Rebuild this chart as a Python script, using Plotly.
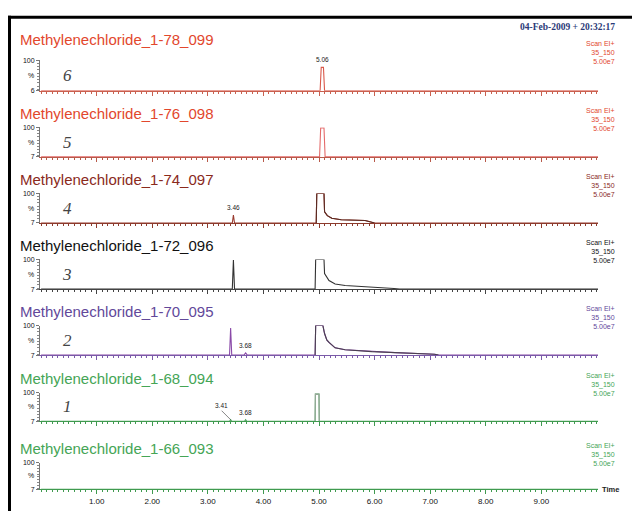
import plotly.graph_objects as go

W, H = 632, 514

# --- Chromatogram data (retention time in minutes, relative intensity %) ---
SAMPLES = [
    "Methylenechloride_1-78_099",
    "Methylenechloride_1-76_098",
    "Methylenechloride_1-74_097",
    "Methylenechloride_1-72_096",
    "Methylenechloride_1-70_095",
    "Methylenechloride_1-68_094",
    "Methylenechloride_1-66_093",
]
RUN_NUMBERS = ["6", "5", "4", "3", "2", "1", ""]
Y_MIN = [6, 7, 7, 7, 7, 7, 7]

t_078 = [0.0, 5.02, 5.04, 5.08, 5.10, 10.02]
i_078 = [6, 6, 78, 78, 6, 6]

t_076 = [0.0, 5.01, 5.03, 5.09, 5.11, 10.02]
i_076 = [7, 7, 98, 98, 7, 7]

t_074 = [0.0, 3.44, 3.46, 3.48, 4.95, 4.96, 5.09, 5.10, 5.15, 5.23, 5.40, 5.83, 6.0, 10.02]
i_074 = [7, 7, 32, 7, 7, 100, 100, 42, 30, 22, 17, 15, 7, 7]

t_072 = [0.0, 3.44, 3.46, 3.48, 4.93, 4.94, 5.09, 5.10, 5.18, 5.29, 5.47, 5.95, 6.35, 6.45, 10.02]
i_072 = [7, 7, 98, 7, 7, 100, 100, 56, 34, 23, 18, 14, 9, 7, 7]

t_070 = [0.0, 3.39, 3.41, 3.43, 3.65, 3.68, 3.71, 4.93, 4.94, 5.07, 5.10, 5.14, 5.18,
         5.29, 5.47, 5.95, 6.37, 7.08, 7.15, 10.02]
i_070 = [7, 7, 92, 7, 7, 14, 7, 7, 100, 100, 75, 55, 47, 30, 24, 18, 15, 10, 7, 7]

t_068 = [0.0, 3.39, 3.41, 3.43, 3.66, 3.68, 3.70, 4.93, 4.935, 5.0, 5.005, 10.02]
i_068 = [7, 7, 12, 7, 7, 12, 7, 7, 95, 95, 7, 7]

t_066 = [0.0, 10.02]
i_066 = [7, 7]

TIMES = [t_078, t_076, t_074, t_072, t_070, t_068, t_066]
INTENS = [i_078, i_076, i_074, i_072, i_070, i_068, i_066]

# labelled peaks: (panel index, retention time, leader-line offset)
PEAK_LABELS = [(0, 5.06, None), (2, 3.46, None), (4, 3.68, None), (5, 3.41, (-9, -9)), (5, 3.68, None)]

TIME_TICKS = [1, 2, 3, 4, 5, 6, 7, 8, 9]
TIME_TICK_TEXT = ["1.00", "2.00", "3.00", "4.00", "5.00", "6.00", "7.00", "8.00", "9.00"]

ACQ_FUNCTION = "Scan EI+"
MASS_RANGE = "35_150"
FULL_SCALE = "5.00e7"
TIMESTAMP = "04-Feb-2009 + 20:32:17"

# --- styling ---
TITLE_COLORS = ["#e2472d", "#e2472d", "#8a2a1c", "#111111", "#62489a", "#45a556", "#45a556"]
LINE_COLORS = ["#d9584a", "#e46a6a", "#9a3c30", "#333333", "#8a4aa8", "#4aa35a", "#4aa35a"]
# solvent-front colour (drawn over the 4.9-7.2 min window) per panel, None = same as trace
FRONT_COLORS = [None, None, "#5a2a22", None, "#4a4050", "#9aa89c", None]
AXIS_COLORS = ["#c9604f", "#b85a4a", "#8c3a2c", "#444444", "#7a5aa8", "#3f9a4f", "#3f9a4f"]

TITLE_ROWS = [36, 111, 178, 245, 312, 380, 451]   # pixel rows of panel titles
TOPS = [57, 125, 192, 259, 326, 394, 465]         # pixel rows of the 100 % level
BASES = [88, 155, 222, 289, 356, 423, 492]        # pixel rows of each baseline
X_LEFT, X_RIGHT = 40, 598

SANS = "Liberation Sans, Arial, sans-serif"
SERIF = "Liberation Serif, Times New Roman, serif"


def px(x):
    return x / W


def py(y):
    return 1 - y / H


fig = go.Figure()
layout = dict(
    width=W, height=H,
    margin=dict(l=0, r=0, t=0, b=0),
    paper_bgcolor="white", plot_bgcolor="white",
    showlegend=False,
)
annotations = []

for k in range(7):
    sfx = "" if k == 0 else str(k + 1)
    fig.add_trace(go.Scatter(
        x=TIMES[k], y=INTENS[k], mode="lines",
        line=dict(color=LINE_COLORS[k], width=1.1),
        xaxis="x" + sfx, yaxis="y" + sfx, hoverinfo="skip",
    ))
    if FRONT_COLORS[k]:
        seg = [(t, v) for t, v in zip(TIMES[k], INTENS[k]) if 4.9 <= t <= 7.2]
        fig.add_trace(go.Scatter(
            x=[s[0] for s in seg], y=[s[1] for s in seg], mode="lines",
            line=dict(color=FRONT_COLORS[k], width=1.1),
            xaxis="x" + sfx, yaxis="y" + sfx, hoverinfo="skip",
        ))
    layout["xaxis" + sfx] = dict(
        domain=[px(X_LEFT), px(X_RIGHT)], range=[-0.02, 10.02], anchor="y" + sfx,
        showgrid=False, zeroline=False, showline=True, linecolor=AXIS_COLORS[k], linewidth=1.2,
        ticks="outside", ticklen=4, tickcolor=AXIS_COLORS[k], tickwidth=1,
        tickmode="array", tickvals=TIME_TICKS, ticktext=TIME_TICK_TEXT,
        showticklabels=(k == 6),
        tickfont=dict(family=SANS, size=8, color="#111"),
        minor=dict(ticks="outside", dtick=0.1, tick0=0, ticklen=2, tickcolor=AXIS_COLORS[k], tickwidth=0.8),
    )
    layout["yaxis" + sfx] = dict(
        domain=[py(BASES[k]), py(TOPS[k])], range=[Y_MIN[k], 100], anchor="x" + sfx,
        showgrid=False, zeroline=False, showline=True, linecolor="#777", linewidth=1,
        ticks="outside", ticklen=3, tickcolor="#777",
        tickmode="array", tickvals=[Y_MIN[k], 100], ticktext=[str(Y_MIN[k]), "100"],
        tickfont=dict(family=SANS, size=7, color="#111"),
        minor=dict(ticks="outside", dtick=10, tick0=0, ticklen=2, tickcolor="#888"),
    )
    mid = (BASES[k] + TOPS[k]) / 2
    # sample title
    annotations.append(dict(
        x=px(18), y=py(TITLE_ROWS[k]), xref="paper", yref="paper",
        text=SAMPLES[k], showarrow=False, xanchor="left", yanchor="middle",
        font=dict(family=SANS, size=15, color=TITLE_COLORS[k]),
    ))
    # percent sign on the intensity axis
    annotations.append(dict(
        x=px(36), y=py(mid), xref="paper", yref="paper", text="%", showarrow=False,
        xanchor="right", yanchor="middle", font=dict(family=SANS, size=7, color="#111"),
    ))
    # run number
    if RUN_NUMBERS[k]:
        annotations.append(dict(
            x=px(67), y=py(mid), xref="paper", yref="paper",
            text="<i>" + RUN_NUMBERS[k] + "</i>", showarrow=False,
            xanchor="center", yanchor="middle", font=dict(family=SERIF, size=17, color="#444"),
        ))
    # acquisition info on the right
    annotations.append(dict(
        x=px(617), y=py(TOPS[k] - 8), xref="paper", yref="paper",
        text="<br>".join([ACQ_FUNCTION, MASS_RANGE, FULL_SCALE]), showarrow=False,
        xanchor="right", yanchor="middle", align="right",
        font=dict(family=SANS, size=7, color=TITLE_COLORS[k]),
    ))

# retention-time labels over peaks
for k, rt, off in PEAK_LABELS:
    sfx = "" if k == 0 else str(k + 1)
    times, vals = TIMES[k], INTENS[k]
    peak = max(v for t, v in zip(times, vals) if abs(t - rt) <= 0.03)
    a = dict(x=rt, y=peak, xref="x" + sfx, yref="y" + sfx, text=f"{rt:.2f}",
             font=dict(family=SANS, size=6.5, color="#222"))
    if off is None:
        a.update(showarrow=False, yanchor="bottom", yshift=2)
    else:
        a.update(showarrow=True, arrowhead=0, arrowwidth=0.6, arrowcolor="#333",
                 ax=off[0], ay=off[1], yanchor="bottom")
    annotations.append(a)

annotations.append(dict(
    x=px(617), y=py(23), xref="paper", yref="paper", text="<b>" + TIMESTAMP + "</b>",
    showarrow=False, xanchor="right", yanchor="middle",
    font=dict(family=SERIF, size=9.5, color="#2b3a78"),
))
annotations.append(dict(
    x=px(600), y=py(BASES[6]), xref="paper", yref="paper", text="<b>Time</b>",
    showarrow=False, xanchor="left", yanchor="middle",
    font=dict(family=SANS, size=7.5, color="#222"),
))

layout["annotations"] = annotations
layout["shapes"] = [
    dict(type="line", xref="paper", yref="paper", x0=px(8), x1=1, y0=py(13.5), y1=py(13.5),
         line=dict(color="black", width=3)),
    dict(type="line", xref="paper", yref="paper", x0=px(9.5), x1=px(9.5), y0=py(12), y1=0,
         line=dict(color="black", width=3)),
]

fig.update_layout(**layout)
fig.write_html("out.html")
